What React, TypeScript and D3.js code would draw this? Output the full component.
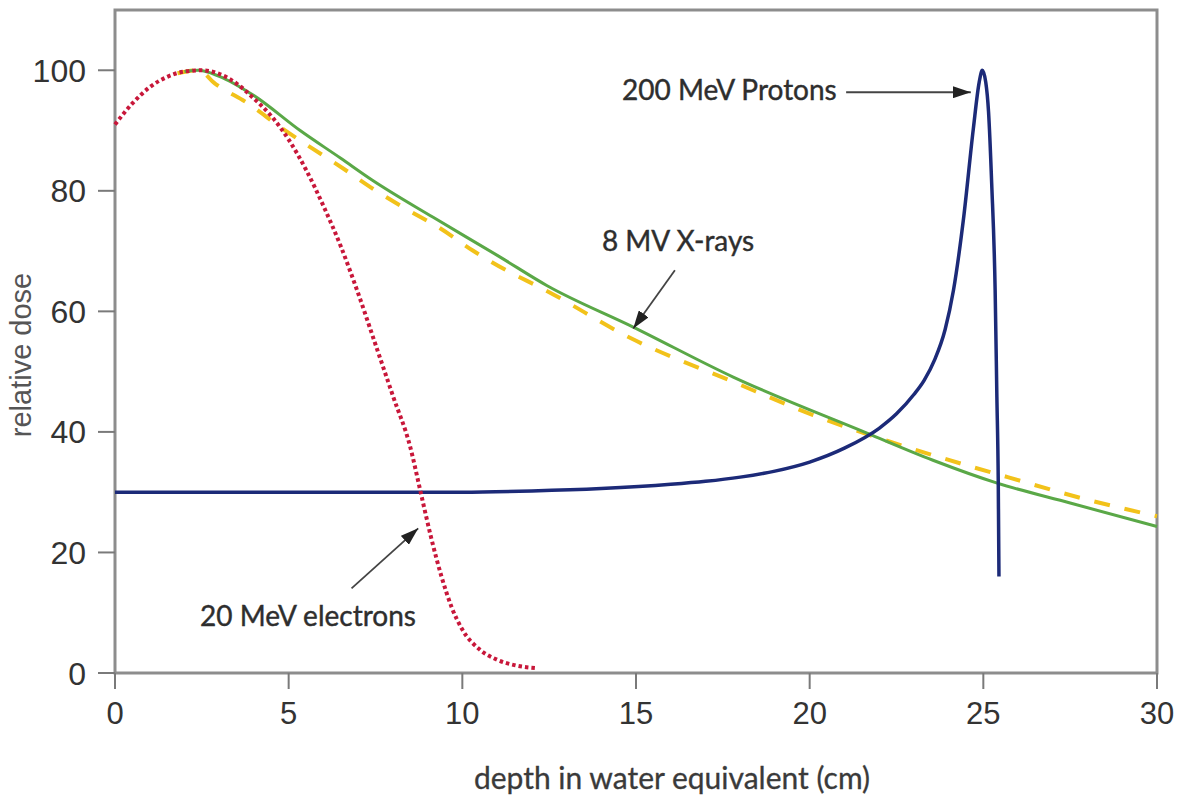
import React from 'react';
import * as d3 from 'd3';

// ---- data ----
const xTicks = [0, 5, 10, 15, 20, 25, 30];
const yTicks = [0, 20, 40, 60, 80, 100];

const electronDepth = [0, 0.5, 1, 1.5, 2, 2.5, 3, 3.5, 4, 4.5, 5, 5.5, 6, 6.5, 7, 7.5, 8, 8.5, 8.8, 9.1, 9.4, 9.7, 10, 10.5, 11, 11.5, 12.15];
const electronDose = [91, 94.5, 97.2, 98.9, 99.8, 100, 99.4, 97.8, 95.3, 92.4, 88.5, 83.5, 77.5, 70.8, 63, 54.5, 46, 37.5, 30, 22.5, 16, 10.8, 7.2, 3.9, 2.2, 1.3, 0.8];

const xrayDepth = [2.0, 2.4, 3, 4, 5.33, 6.5, 7.4, 9.16, 11.09, 12.43, 14.92, 17.8, 21.65, 23.55, 25.4, 27.5, 30];
const xrayDose = [99.8, 100, 99.0, 95.8, 90, 85.4, 81.8, 75.6, 69, 64.3, 57.4, 49.1, 39.8, 35.3, 31.5, 28.2, 24.3];

const xrayCalcDepth = [1.8, 2.4, 2.88, 3.83, 4.8, 5.61, 6.57, 7.49, 8.44, 9.36, 10.3, 11.3, 12.3, 14.9, 17.8, 20.1, 22.4, 24.5, 25.7, 27.7, 30];
const xrayCalcDose = [99.5, 100, 97.8, 94.5, 90.4, 87.3, 83.7, 80.1, 76.8, 73.8, 70.1, 66.7, 63.8, 55.4, 48.3, 42.8, 38.2, 34.5, 32.5, 29.2, 26];

const protonDepth = [0, 6, 10, 12, 14, 16, 17, 18, 19, 20, 21, 22, 22.5, 23, 23.3, 23.6, 23.9, 24.14, 24.43, 24.71, 24.88, 24.97, 25.07, 25.15, 25.24, 25.34, 25.39, 25.43, 25.45];
const protonDose = [30, 30, 30, 30.2, 30.6, 31.3, 31.8, 32.5, 33.5, 35.0, 37.3, 40.6, 43.0, 46.2, 48.6, 52.0, 57.0, 63.5, 75.4, 90.2, 98, 100, 98, 93.1, 81.3, 63.5, 45.8, 31.5, 16];

const labelTexts = ['200 MeV Protons', '8 MV X-rays', '20 MeV electrons'];
const labelX = [14.6, 14.02, 2.45];
const labelY = [95.0, 70.0, 7.8];
const arrowFromX = [21.05, 16.12, 6.81];
const arrowFromY = [96.35, 66.83, 14.05];
const arrowToX = [24.64, 14.92, 8.73];
const arrowToY = [96.35, 57.16, 24.0];

const W = 1182;
const H = 807;
const left = 115, right = 1157, top = 10, bottom = 673;

export default function App() {
  const x = d3.scaleLinear().domain([0, 30]).range([left, right]);
  const y = d3.scaleLinear().domain([0, 110]).range([bottom, top]);

  const line = d3
    .line<[number, number]>()
    .x((d) => x(d[0]))
    .y((d) => y(d[1]))
    .curve(d3.curveMonotoneX);

  const zip = (a: number[], b: number[]) => a.map((v, i) => [v, b[i]] as [number, number]);

  const tickColor = '#7a7a7a';
  const frameColor = '#8d8d8d';

  return (
    <div style={{ position: 'absolute', left: 0, top: 0 }}>
      <svg width={W} height={H} style={{ display: 'block', background: '#fff' }}>
        <defs>
          <marker id="ah" markerUnits="userSpaceOnUse" markerWidth={18} markerHeight={12} refX={18} refY={6} orient="auto">
            <path d="M0,0 L18,6 L0,12 Z" fill="#222" />
          </marker>
        </defs>

        {/* frame */}
        <rect x={left} y={top} width={right - left} height={bottom - top} fill="none" stroke={frameColor} strokeWidth={3} />

        {/* ticks */}
        {xTicks.map((t) => (
          <g key={'xt' + t}>
            <line x1={x(t)} x2={x(t)} y1={bottom} y2={bottom + 16} stroke={tickColor} strokeWidth={2} />
            <text x={x(t)} y={bottom + 51} textAnchor="middle" fontFamily="'Liberation Sans', Arial, sans-serif" fontSize={31} fill="#333">
              {t}
            </text>
          </g>
        ))}
        {yTicks.map((t) => (
          <g key={'yt' + t}>
            <line x1={left - 17} x2={left} y1={y(t)} y2={y(t)} stroke={tickColor} strokeWidth={2} />
            <text x={86} y={y(t)} dy="0.36em" textAnchor="end" fontFamily="'Liberation Sans', Arial, sans-serif" fontSize={32} fill="#333">
              {t}
            </text>
          </g>
        ))}

        {/* axis titles */}
        <text x={672} y={789} textAnchor="middle" fontFamily="Lato, 'Open Sans', sans-serif" fontSize={30} fill="#3a3a3a" stroke="#3a3a3a" strokeWidth={0.3}>
          depth in water equivalent (cm)
        </text>
        <text transform="translate(31,355) rotate(-90)" textAnchor="middle" fontFamily="'Liberation Sans', Arial, sans-serif" fontSize={29} fill="#555">
          relative dose
        </text>

        {/* curves */}
        <path d={line(zip(xrayCalcDepth, xrayCalcDose)) || ''} fill="none" stroke="#f2c21a" strokeWidth={4} strokeDasharray="16 15" />
        <path d={line(zip(xrayDepth, xrayDose)) || ''} fill="none" stroke="#5aa847" strokeWidth={3} />
        <path d={line(zip(protonDepth, protonDose)) || ''} fill="none" stroke="#1c2a78" strokeWidth={3.5} strokeLinejoin="round" />
        <path d={line(zip(electronDepth, electronDose)) || ''} fill="none" stroke="#c8173a" strokeWidth={4} strokeDasharray="3.5 3" />

        {/* annotations */}
        {labelTexts.map((s, i) => (
          <g key={'lab' + i}>
            <text x={x(labelX[i])} y={y(labelY[i])} fontFamily="Lato, 'Open Sans', sans-serif" fontSize={28} fill="#2e2e2e" stroke="#2e2e2e" strokeWidth={0.4}>
              {s}
            </text>
            <line
              x1={x(arrowFromX[i])}
              y1={y(arrowFromY[i])}
              x2={x(arrowToX[i])}
              y2={y(arrowToY[i])}
              stroke="#444"
              strokeWidth={1.8}
              markerEnd="url(#ah)"
            />
          </g>
        ))}
      </svg>
    </div>
  );
}
